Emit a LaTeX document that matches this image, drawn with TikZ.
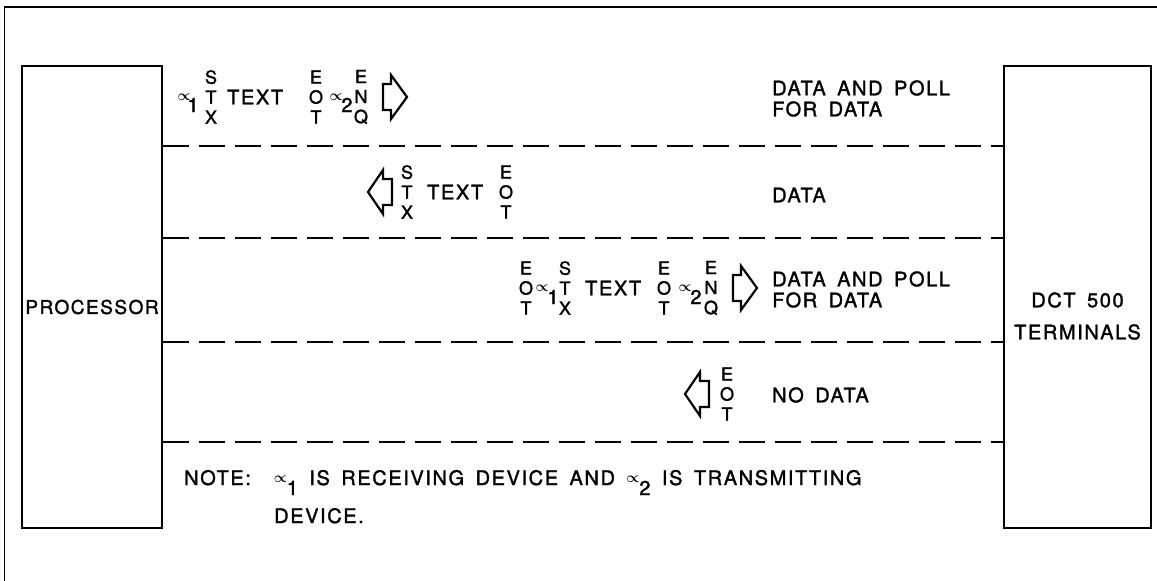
\documentclass[tikz,border=0pt]{standalone}
\usepackage{fontspec}
\usepackage{amsmath}
\usepackage{graphicx}
\usepackage{tikz}
\setmainfont{TeX Gyre Heros}
\newfontfamily\lblfont[LetterSpace=8,WordSpace=1.6,FakeBold=1.5]{TeX Gyre Heros}
\newcommand{\prp}{\scalebox{0.7}{$\boldsymbol{\propto}$}}

\begin{document}
\begin{tikzpicture}[x=1pt,y=-1pt,
box_node/.style={draw,line width=2pt,inner sep=0pt},
label_node/.style={font=\lblfont\fontsize{20}{21}\selectfont,inner sep=0pt,align=left},
seq_node/.style={font=\lblfont\fontsize{20}{20}\selectfont,inner sep=0pt},
stack_node/.style={font=\lblfont\fontsize{18}{20}\selectfont,inner sep=0pt,align=center},
divider_line/.style={line width=2pt,dash pattern=on 26pt off 10pt},
right_arrow/.pic={\draw[line width=2.2pt,line join=miter] (-12,-13) -- (-4,-13) -- (-4,-22) -- (12,0) -- (-4,22) -- (-4,13) -- (-12,13) -- cycle;},
left_arrow/.pic={\draw[line width=2.2pt,line join=miter] (12,-13) -- (3,-13) -- (3,-22) -- (-12,0) -- (3,22) -- (3,13) -- (12,13) -- cycle;}]

\useasboundingbox (0,0) rectangle (1157,581);
\draw[line width=1.5pt] (4.5,581) -- (4.5,7) -- (1157,7);

\node[box_node,minimum width=140pt,minimum height=462pt] (proc) at (92,297) {};
\node[box_node,minimum width=147pt,minimum height=462pt] (term) at (1077.5,297) {};
\node[label_node,font=\lblfont\fontsize{19}{21}\selectfont] (proc_label) at (92,307) {PROCESSOR};
\node[label_node,align=center] (term_label) at (1077.5,316) {DCT 500\\[11pt]TERMINALS};

\foreach \yy in {146,238,342,442}
  \draw[divider_line] (proc.east |- 0,\yy) -- (term.west |- 0,\yy);

% data and poll
\node[seq_node] (r1_a) at (184,97) {\prp};
\node[seq_node] (r1_one) at (193,105) {1};
\node[stack_node] (r1_stx) at (211,97) {S\\T\\X};
\node[seq_node,anchor=west] (r1_text) at (227,97) {TEXT};
\node[stack_node] (r1_eot) at (316,97) {E\\O\\T};
\node[seq_node] (r1_b) at (336,97) {\prp};
\node[seq_node] (r1_two) at (347,105) {2};
\node[stack_node] (r1_enq) at (361,97) {E\\N\\Q};
\pic (r1_arrow) at (395,97) {right_arrow};
\node[label_node,anchor=west] (r1_label) at (772,98.5) {DATA AND POLL\\FOR DATA};

% data
\pic (r2_arrow) at (380,192) {left_arrow};
\node[stack_node] (r2_stx) at (407,192) {S\\T\\X};
\node[seq_node,anchor=west] (r2_text) at (427,192) {TEXT};
\node[stack_node] (r2_eot) at (506,192) {E\\O\\T};
\node[label_node,anchor=west] (r2_label) at (772,195) {DATA};

% data and poll
\node[stack_node] (r3_eot1) at (526,288) {E\\O\\T};
\node[seq_node] (r3_a) at (542,288) {\prp};
\node[seq_node] (r3_one) at (553,297) {1};
\node[stack_node] (r3_stx) at (565,288) {S\\T\\X};
\node[seq_node,anchor=west] (r3_text) at (585,288) {TEXT};
\node[stack_node] (r3_eot2) at (664,288) {E\\O\\T};
\node[seq_node] (r3_b) at (685,288) {\prp};
\node[seq_node] (r3_two) at (696,297) {2};
\node[stack_node] (r3_enq) at (711,288) {E\\N\\Q};
\pic (r3_arrow) at (745,288) {right_arrow};
\node[label_node,anchor=west] (r3_label) at (772,289.5) {DATA AND POLL\\FOR DATA};

% no data
\pic (r4_arrow) at (697,394) {left_arrow};
\node[stack_node] (r4_eot) at (727,394) {E\\O\\T};
\node[label_node,anchor=west] (r4_label) at (772,395) {NO DATA};

% note
\node[label_node,anchor=base west] (note) at (184,485) {NOTE:\ \ \raisebox{3pt}{\prp}\raisebox{-10pt}{1} IS RECEIVING DEVICE AND \raisebox{3pt}{\prp}\raisebox{-10pt}{2} IS TRANSMITTING};
\node[label_node,anchor=base west] (note_cont) at (274,523) {DEVICE.};

\end{tikzpicture}
\end{document}
